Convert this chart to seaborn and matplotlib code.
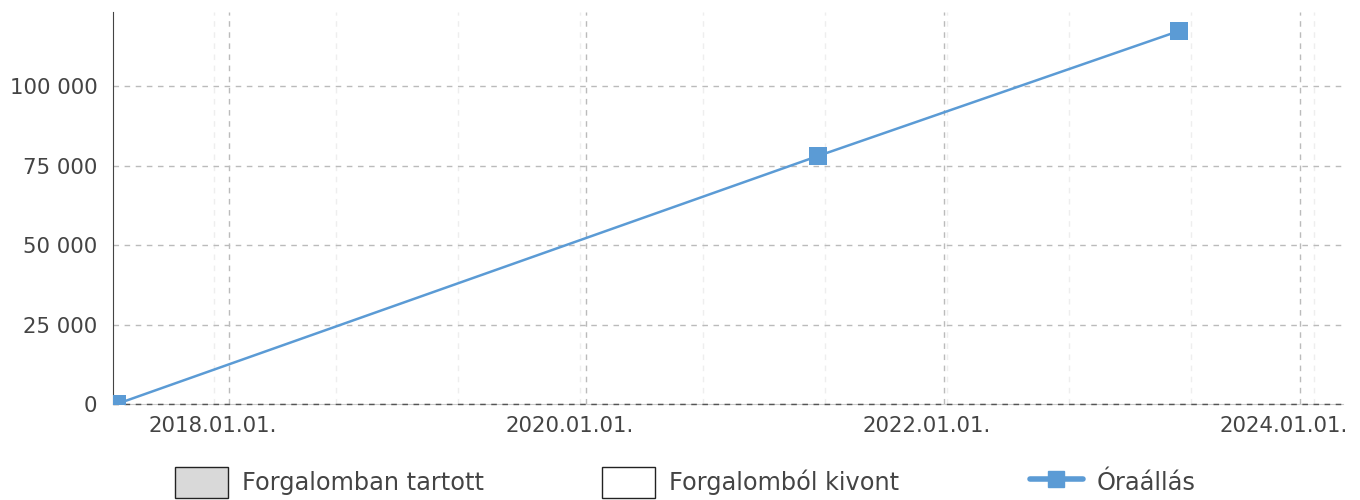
import pandas as pd
import numpy as np
import seaborn as sns
import matplotlib.pyplot as plt
import matplotlib.dates as mdates
import matplotlib.transforms as mtransforms
from matplotlib.ticker import FuncFormatter, MultipleLocator
from matplotlib.patches import Patch
from matplotlib.lines import Line2D

# data
dates = ["2017-05-16", "2021-04-19", "2023-04-27"]
readings = [0, 78000, 117300]
legend_labels = ["Forgalomban tartott", "Forgalomból kivont", "Óraállás"]

df = pd.DataFrame({"date": pd.to_datetime(dates), "km": readings})

sns.set_style("white")
plt.rcParams["font.family"] = ["DejaVu Sans"]

blue = "#5b9bd5"
text_col = "#444444"

fig = plt.figure(figsize=(13.6, 5), dpi=100)
ax = fig.add_axes([0.083, 0.192, 0.9045, 0.784])

sns.lineplot(data=df, x="date", y="km", ax=ax, color=blue, lw=1.8,
             marker="s", markersize=13, markeredgewidth=0, zorder=3)

ax.set_xlim(pd.Timestamp("2017-05-08"), pd.Timestamp("2024-03-28"))
ax.set_ylim(0, 123300)

ax.xaxis.set_major_locator(mdates.YearLocator(2))
ax.xaxis.set_major_formatter(mdates.DateFormatter("%Y.%m.%d."))
ax.xaxis.set_minor_locator(MultipleLocator(250))
ax.yaxis.set_major_locator(MultipleLocator(25000))
ax.yaxis.set_major_formatter(FuncFormatter(lambda v, p: f"{int(v):,}".replace(",", " ")))

ax.grid(which="major", axis="both", color="#bbbbbb", ls=(0, (4, 4)), lw=1)
ax.grid(which="minor", axis="x", color="#eeeeee", ls=(0, (4, 4)), lw=1)

for s in ["top", "right"]:
    ax.spines[s].set_visible(False)
ax.spines["left"].set_color("#444444")
ax.spines["bottom"].set_color("#cccccc")
ax.axhline(0, color="#555555", ls=(0, (4, 4)), lw=1, zorder=2.6, clip_on=False)

ax.tick_params(axis="both", which="major", labelsize=15.3, labelcolor=text_col,
               length=5, color="#444444", direction="out")
ax.tick_params(axis="y", pad=6)
ax.tick_params(axis="x", which="minor", length=0)
ax.set_xlabel("")
ax.set_ylabel("")

# the x labels sit a little left of their ticks in the reference
shift = mtransforms.ScaledTranslation(-17 / 100, 0, fig.dpi_scale_trans)
for lbl in ax.get_xticklabels():
    lbl.set_transform(lbl.get_transform() + shift)

# legend: equal-width columns, so one small legend per entry
handles = [
    Patch(facecolor="#d9d9d9", edgecolor="#222222", lw=1),
    Patch(facecolor="white", edgecolor="#222222", lw=1),
    Line2D([], [], color=blue, lw=4, marker="s", markersize=12),
]
for h, lab, x0 in zip(handles, legend_labels, [175, 602, 1030]):
    leg = fig.legend([h], [lab], loc="lower left", frameon=False,
                     fontsize=17.3, bbox_to_anchor=(x0 / 1360, 0.004),
                     borderpad=0, borderaxespad=0,
                     handlelength=2.2, handleheight=1.6, handletextpad=0.58,
                     labelcolor=text_col)

fig.savefig("out.png", dpi=100)
plt.close(fig)
